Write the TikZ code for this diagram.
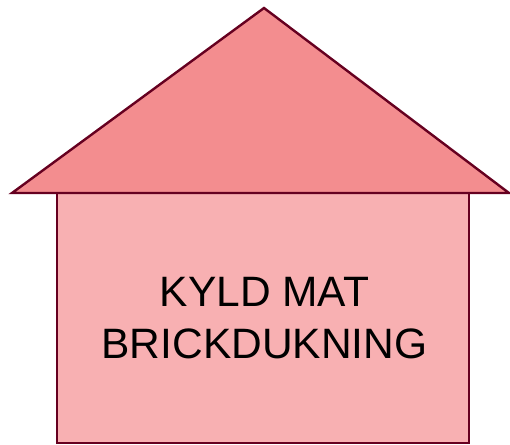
\documentclass[tikz,border=0pt]{standalone}
\usepackage{fontspec}
\setmainfont{Liberation Sans}
\definecolor{roofred}{RGB}{243,141,143}
\definecolor{wallpink}{RGB}{248,176,178}
\definecolor{edgered}{RGB}{102,0,32}
\begin{document}
\begin{tikzpicture}[x=1pt,y=-1pt,
  part/.style={draw=edgered,line width=2.4pt,line join=miter},
  label/.style={align=center,inner sep=0pt,font=\fontsize{42.5}{52}\selectfont}]
  \useasboundingbox (0,0) rectangle (510,444);
  % wall of the house
  \draw[part,fill=wallpink] (57,193) rectangle (469,443);
  % roof
  \coordinate (eaveL) at (12,193);
  \coordinate (ridge) at (264,8);
  \coordinate (eaveR) at (509,193);
  \draw[part,fill=roofred] (eaveL) -- (ridge) -- (eaveR) -- cycle;
  \node[label] (title) at (264.5,318) {KYLD MAT\\BRICKDUKNING};
\end{tikzpicture}
\end{document}
